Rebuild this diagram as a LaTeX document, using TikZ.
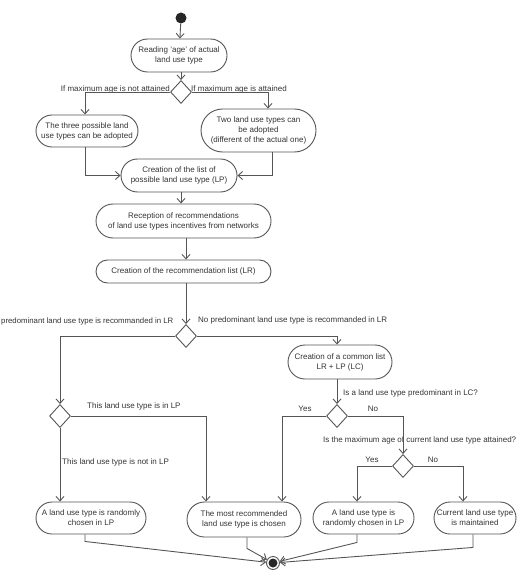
\documentclass[tikz,border=0pt]{standalone}
\usepackage{fontspec}
\setmainfont{Liberation Sans}
\usetikzlibrary{arrows.meta,shapes.misc,shapes.geometric,calc}
\definecolor{ln}{HTML}{555555}
\definecolor{tx}{HTML}{333333}
\tikzset{
  act/.style={rounded rectangle, draw=ln, line width=0.9pt, text=tx, align=center, inner sep=1pt, font=\fontsize{8}{10}\selectfont},
  dec/.style={diamond, draw=ln, line width=0.9pt, minimum width=21pt, minimum height=23pt, inner sep=0pt},
  lbl/.style={text=tx, inner sep=0pt, font=\fontsize{8}{10}\selectfont},
  flow/.style={draw=ln, line width=0.9pt, -{Straight Barb[length=4.5pt,width=8pt]}},
}
\begin{document}
\begin{tikzpicture}[x=1pt,y=-1pt]
\useasboundingbox (0,0) rectangle (518,572);
% start / end
\node[circle, fill=black!85, minimum size=11pt, inner sep=0pt] (start) at (181,18) {};
\node[circle, draw=ln, line width=0.9pt, minimum size=13pt, inner sep=0pt,
  path picture={\fill[black!85] (path picture bounding box.center) circle (4.5pt);}] (endc) at (273,563) {};
% activities
\node[act, minimum width=98pt, minimum height=33pt] (read) at (179,55.5) {Reading 'age' of actual\\land use type};
\node[act, minimum width=104pt, minimum height=32pt] (three) at (87,131) {The three possible land\\use types can be adopted};
\node[act, minimum width=117pt, minimum height=43pt] (two) at (258.5,130.5) {Two land use types can\\be adopted\\(different of the actual one)};
\node[act, minimum width=118pt, minimum height=33pt] (lp) at (179,175.5) {Creation of the list of\\possible land use type (LP)};
\node[act, minimum width=177pt, minimum height=34pt] (rec) at (183.5,221) {Reception of recommendations\\of land use types incentives from networks};
\node[act, minimum width=177pt, minimum height=23pt] (lr) at (183.5,271.5) {Creation of the recommendation list (LR)};
\node[act, minimum width=106pt, minimum height=34pt] (lc) at (340,362) {Creation of a common list\\LR + LP (LC)};
\node[act, minimum width=112pt, minimum height=32pt] (a1) at (91,518) {A land use type is randomly\\chosen in LP};
\node[act, minimum width=116pt, minimum height=35pt] (most) at (244,519.5) {The most recommended\\land use type is chosen};
\node[act, minimum width=103pt, minimum height=32pt] (a2) at (363.5,518) {A land use type is\\randomly chosen in LP};
\node[act, minimum width=84pt, minimum height=32pt] (cur) at (475,518) {Current land use type\\is maintained};
% decisions
\node[dec] (d1) at (181,92) {};
\node[dec] (d2) at (186,336) {};
\node[dec] (d3) at (60,416) {};
\node[dec] (d4) at (337,416) {};
\node[dec] (d5) at (403,466) {};
% labels
\node[lbl, anchor=east] (l1) at (170,89) {If maximum age is not attained};
\node[lbl, anchor=west] (l2) at (191,89) {If maximum age is attained};
\node[lbl, anchor=west, font=\fontsize{7.8}{10}\selectfont] (l3) at (1,321) {predominant land use type is recommanded in LR};
\node[lbl, anchor=west] (l4) at (198,320) {No predominant land use type is recommanded in LR};
\node[lbl, anchor=west] (l5) at (343,393) {Is a land use type predominant in LC?};
\node[lbl, anchor=west] (l6) at (87,406) {This land use type is in LP};
\node[lbl] (l7) at (305,409) {Yes};
\node[lbl] (l8) at (373,409) {No};
\node[lbl, anchor=west] (l9) at (323,440) {Is the maximum age of current land use type attained?};
\node[lbl, anchor=west] (l10) at (62,462) {This land use type is not in LP};
\node[lbl] (l11) at (372,460) {Yes};
\node[lbl] (l12) at (433,460) {No};
% flows
\draw[flow] (start) -- (read);
\draw[flow] (read.south -| d1) -- (d1.north);
\draw[flow] (d1.west) -| ([xshift=-2pt]three.north);
\draw[flow] (d1.east) -| ([xshift=9.5pt]two.north);
\draw[flow] ([xshift=-2pt]three.south) |- (lp.west);
\draw[flow] ([xshift=13.5pt]two.south) |- (lp.east);
\draw[flow] ([xshift=2pt]lp.south) -- ([xshift=2pt]lp.south |- rec.north);
\draw[flow] ([xshift=2.5pt]rec.south) -- ([xshift=2.5pt]rec.south |- lr.north);
\draw[flow] (lr.south -| d2) -- (d2.north);
\draw[flow] (d2.west) -| (d3.north);
\draw[flow] (d2.east) -| ([xshift=-3pt]lc.north);
\draw[flow] (lc.south -| d4) -- (d4.north);
\draw[flow] (d3.east) -| ([xshift=-38pt]most.north);
\draw[flow] (d3.south) -- (d3.south |- a1.north);
\draw[flow] (d4.west) -| ([xshift=38pt]most.north);
\draw[flow] (d4.east) -| (d5.north);
\draw[flow] (d5.west) -| ([xshift=-6.5pt]a2.north);
\draw[flow] (d5.east) -| ([xshift=-12pt]cur.north);
\draw[flow] ([xshift=-6pt]a1.south) -- ++(0,7) -- (endc);
\draw[flow] ([xshift=3pt]most.south) -- ++(0,11) -- (endc);
\draw[flow] ([xshift=-6.5pt]a2.south) -- ++(0,8) -- (endc);
\draw[flow] ([xshift=-2pt]cur.south) -- ++(0,13) -- (endc);
\end{tikzpicture}
\end{document}
